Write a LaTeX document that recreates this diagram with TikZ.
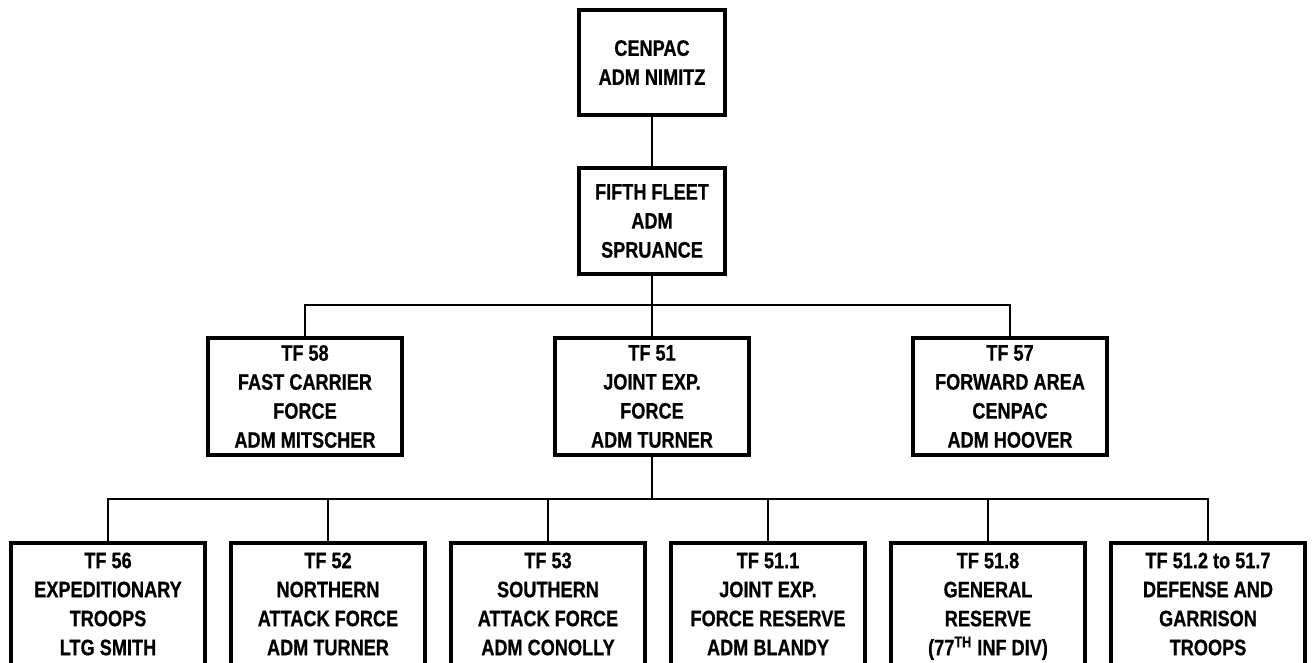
\documentclass[tikz,border=0pt]{standalone}
\usepackage{fontspec}
\setmainfont{Liberation Sans}[FakeStretch=0.81,FakeBold=0.6]
\begin{document}
\begin{tikzpicture}[%
	    x=0.5pt,
	    y=-0.5pt,
	    unit/.style={draw, line width=2pt, align=center, inner sep=0pt,
	      font=\bfseries\fontsize{11.2}{14.5}\selectfont},
	    top/.style={unit, minimum width=73pt, minimum height=52.5pt},
	    cmd/.style={unit, minimum width=97pt, minimum height=58.5pt},
	    sub/.style={unit, minimum width=97pt, minimum height=61pt},
	    link/.style={line width=1.4pt},
	    thin link/.style={line width=1pt}
	  ]

	  \useasboundingbox (0,0) rectangle (1313,663);

	  \node[top] (CENPAC) at (652,62.5) {CENPAC\\ADM NIMITZ};
	  \node[top, minimum height=53pt] (FLEET) at (652,221) {FIFTH FLEET\\ADM\\SPRUANCE};

	  \node[cmd] (TF58) at (305,396.5) {TF 58\\FAST CARRIER\\FORCE\\ADM MITSCHER};
	  \node[cmd] (TF51) at (652,396.5) {TF 51\\JOINT EXP.\\FORCE\\ADM TURNER};
	  \node[cmd] (TF57) at (1010,396.5) {TF 57\\FORWARD AREA\\CENPAC\\ADM HOOVER};

	  \node[sub] (TF56) at (108,604) {TF 56\\EXPEDITIONARY\\TROOPS\\LTG SMITH};
	  \node[sub] (TF52) at (328,604) {TF 52\\NORTHERN\\ATTACK FORCE\\ADM TURNER};
	  \node[sub] (TF53) at (548,604) {TF 53\\SOUTHERN\\ATTACK FORCE\\ADM CONOLLY};
	  \node[sub] (TF511) at (768,604) {TF 51.1\\JOINT EXP.\\FORCE RESERVE\\ADM BLANDY};
	  \node[sub] (TF518) at (988,604) {TF 51.8\\GENERAL\\RESERVE\\\raisebox{0pt}[\height][0pt]{(77\textsuperscript{TH} INF DIV)}};
	  \node[sub] (TF5127) at (1208,604) {TF 51.2 to 51.7\\DEFENSE AND\\GARRISON\\TROOPS};

	  \coordinate (barA) at (652,305);
	  \coordinate (barB) at (652,499);

	  \draw[link] (CENPAC) -- (FLEET);
	  \draw[link] (FLEET) -- (TF51);
	  \draw[thin link] (TF58.north) |- (barA) -| (TF57.north);

	  \draw[link] (TF51) -- (barB);
	  \draw[link] (TF56.north) |- (barB) -| (TF5127.north);
	  \foreach \n in {TF52,TF53,TF511,TF518}
	    \draw[link] (\n.north) -- (\n.north |- barB);

\end{tikzpicture}
\end{document}
